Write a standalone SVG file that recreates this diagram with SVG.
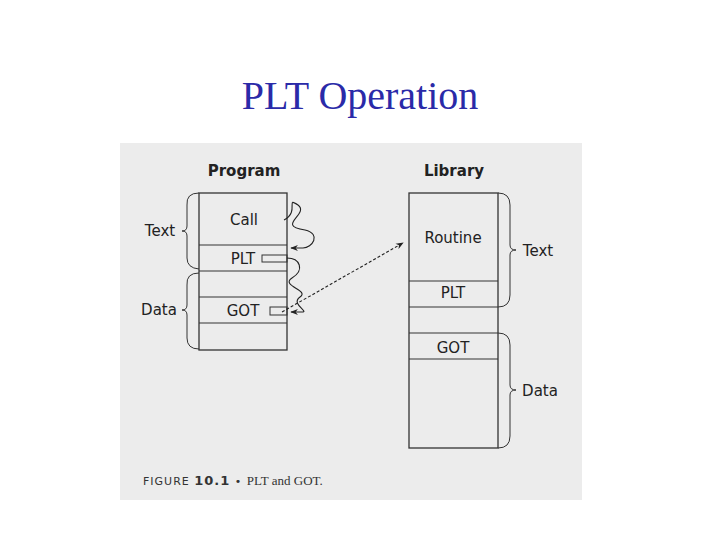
<svg xmlns="http://www.w3.org/2000/svg" width="720" height="540" viewBox="0 0 720 540">
<defs>
<marker id="ah" viewBox="0 0 10 10" refX="9" refY="5" markerWidth="7" markerHeight="7" orient="auto"><path d="M0,1 L10,5 L0,9 L3,5 z" fill="#222"/></marker>
<style>
.box{fill:none;stroke:#333;stroke-width:1.3}
.ln{stroke:#333;stroke-width:1.2}
.t{font-family:"DejaVu Sans","Liberation Sans",sans-serif;font-size:15px;fill:#222;text-anchor:middle}
.b{fill:none;stroke:#333;stroke-width:1}
.c{fill:none;stroke:#222;stroke-width:1.1}
</style>
</defs>
<rect width="720" height="540" fill="#fff"/>
<text x="360" y="109" font-family="Liberation Serif,serif" font-size="40" fill="#2a2aa8" text-anchor="middle">PLT Operation</text>
<rect x="120" y="143" width="462" height="357" fill="#ececec"/>
<g id="program">
<text class="t" x="244" y="176" font-weight="bold">Program</text>
<rect class="box" x="199" y="193" width="88" height="157"/>
<line class="ln" x1="199" y1="245" x2="287" y2="245"/>
<line class="ln" x1="199" y1="271" x2="287" y2="271"/>
<line class="ln" x1="199" y1="297" x2="287" y2="297"/>
<line class="ln" x1="199" y1="323" x2="287" y2="323"/>
<text class="t" x="244" y="225">Call</text>
<text class="t" x="243" y="264">PLT</text>
<text class="t" x="243" y="316">GOT</text>
<rect class="b" x="262" y="255" width="25" height="7"/>
<rect class="b" x="270" y="307" width="17" height="8"/>
<path class="b" d="M199,193 Q186,193 187,205 L187,226 Q187,231 182,231 Q187,231 187,236 L187,258 Q187,268 199,269"/>
<path class="b" d="M199,273 Q186,273 187,285 L187,305 Q187,310 182,310 Q187,310 187,315 L187,338 Q187,349 199,349"/>
<text class="t" x="160" y="236">Text</text>
<text class="t" x="159" y="315">Data</text>
</g>
<g id="library">
<text class="t" x="454" y="176" font-weight="bold">Library</text>
<rect class="box" x="409" y="193" width="89" height="255"/>
<line class="ln" x1="409" y1="281" x2="498" y2="281"/>
<line class="ln" x1="409" y1="307" x2="498" y2="307"/>
<line class="ln" x1="409" y1="333" x2="498" y2="333"/>
<line class="ln" x1="409" y1="359" x2="498" y2="359" stroke-width="2"/>
<text class="t" x="453" y="243">Routine</text>
<text class="t" x="453" y="298">PLT</text>
<text class="t" x="453" y="353">GOT</text>
<path class="b" d="M498,193 Q510,193 510,205 L510,245 Q510,250 516,250 Q510,250 510,255 L510,295 Q510,307 498,307"/>
<path class="b" d="M498,333 Q510,333 510,345 L510,385 Q510,390 516,390 Q510,390 510,395 L510,436 Q510,448 498,448"/>
<text class="t" x="538" y="256">Text</text>
<text class="t" x="540" y="396">Data</text>
</g>
<g id="connectors">
<path class="c" d="M284,220 C300,212 285,196 298,205 C310,214 275,226 305,230 C322,234 312,248 303,248 L291,248" marker-end="url(#ah)"/>
<path class="c" d="M287,258 C300,258 305,270 292,278 C280,286 310,290 300,297 C290,304 310,312 302,312 L291,312" marker-end="url(#ah)"/>
<path class="c" d="M282,312 L403,243" stroke-dasharray="3,2" marker-end="url(#ah)"/>
</g>
<text x="143" y="485" font-family="DejaVu Sans,sans-serif" font-size="11" fill="#333" letter-spacing="1">FIGURE <tspan font-weight="bold" font-size="13">10.1</tspan> • <tspan font-family="Liberation Serif,serif" font-size="13" letter-spacing="0">PLT and GOT.</tspan></text>
</svg>
